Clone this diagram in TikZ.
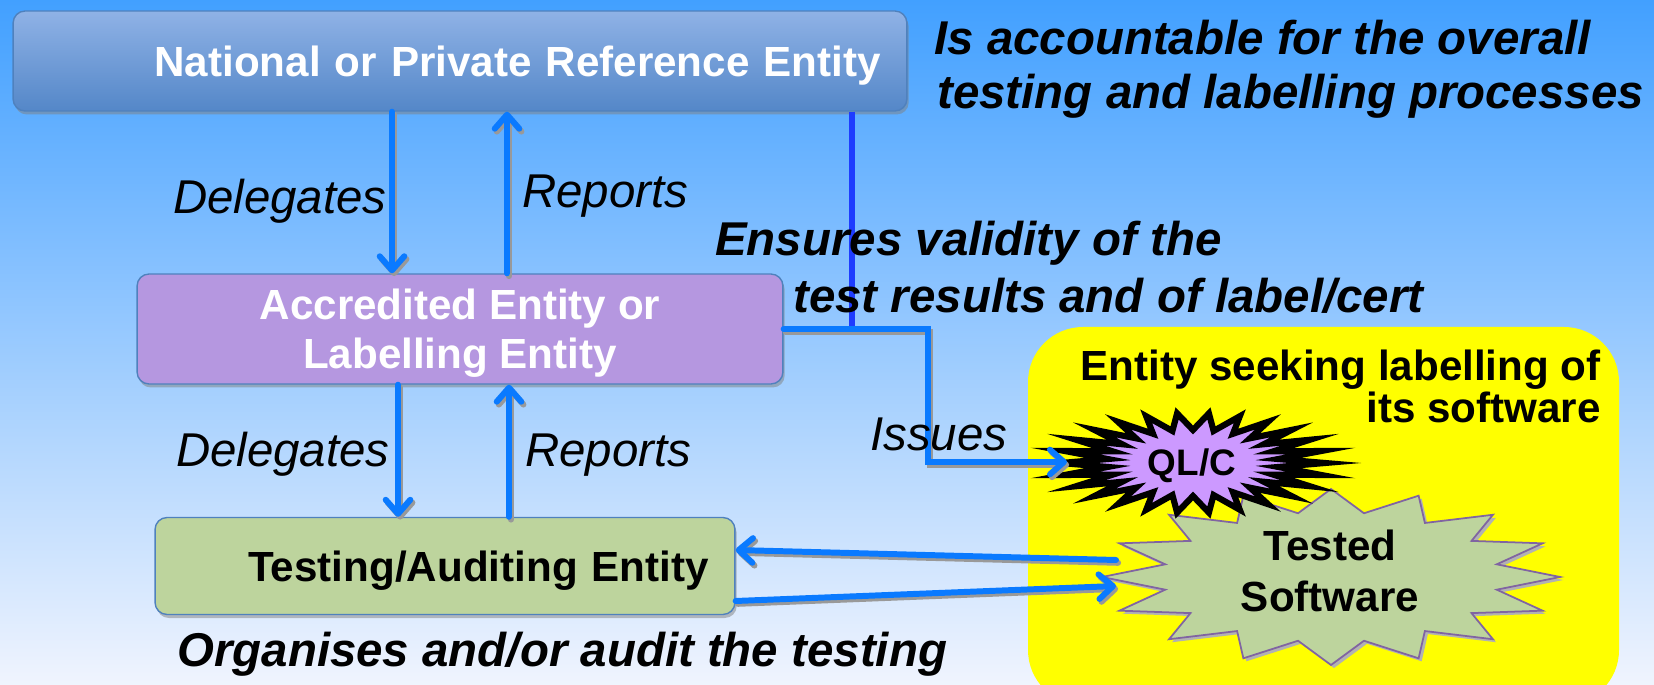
\documentclass[tikz,border=0pt]{standalone}
\usepackage{fontspec}
\setmainfont{Liberation Sans}
\usetikzlibrary{arrows.meta,shadows,calc}
\definecolor{bgtop}{RGB}{66,160,255}
\definecolor{bgmid}{RGB}{160,198,255}
\definecolor{bgbot}{RGB}{240,244,254}
\definecolor{arrblue}{RGB}{10,122,255}
\definecolor{darkblue}{RGB}{30,60,255}
\definecolor{topA}{RGB}{143,178,230}
\definecolor{topB}{RGB}{84,135,200}
\definecolor{boxedge}{RGB}{79,129,189}
\definecolor{purplebox}{RGB}{181,151,224}
\definecolor{greenbox}{RGB}{189,212,157}
\definecolor{qlfill}{RGB}{204,153,255}
\definecolor{starpurple}{RGB}{128,100,162}
\definecolor{yellowbg}{RGB}{255,255,0}
\begin{document}
\begin{tikzpicture}[x=0.02cm,y=-0.02cm,
  boxbase/.style={rounded corners=0.24cm, draw=boxedge, line width=0.8pt,
    drop shadow={shadow xshift=1pt,shadow yshift=-2pt,fill=black!50,opacity=0.5},
    text depth=0pt, font=\fontsize{24}{28}\selectfont\bfseries},
  natbox/.style={boxbase, top color=topA, bottom color=topB, text=white,
    minimum width=17.88cm, minimum height=2cm, text width=16.84cm, inner xsep=0.52cm, align=right},
  accbox/.style={boxbase, fill=purplebox, text=white,
    minimum width=12.92cm, minimum height=2.2cm, align=center},
  tstbox/.style={boxbase, fill=greenbox, text=black,
    minimum width=11.6cm, minimum height=1.94cm, text width=10.56cm, inner xsep=0.52cm, align=right},
  lbl/.style={inner sep=0pt, font=\fontsize{27}{32}\selectfont\itshape},
  blbl/.style={inner sep=0pt, font=\fontsize{27}{32}\selectfont\bfseries\itshape},
  sbold/.style={inner sep=0pt, font=\fontsize{24}{29}\selectfont\bfseries},
  arrshadow/.style={draw=black!40, line width=3.4pt, line cap=round,
    -{Straight Barb[length=8pt,width=14pt,line cap=round,line join=round]}},
  arr/.style={draw=arrblue, line width=3.4pt, line cap=round,
    -{Straight Barb[length=8pt,width=14pt,line cap=round,line join=round]}},
  darkline/.style={draw=darkblue, line width=3pt}
]
\useasboundingbox (0,0) rectangle (1654,685);
\clip (0,0) rectangle (1654,685);
\shade[top color=bgtop, middle color=bgmid, bottom color=bgbot] (0,0) rectangle (1654,685);

% yellow area
\fill[yellowbg, rounded corners=1.1cm] (1028,327) rectangle (1619,705);

% boxes
\node[natbox] (nat) at (460,61) {National or Private Reference Entity};
\node[accbox] (acc) at (460,329) {Accredited Entity or\\Labelling Entity};
\node[tstbox] (tst) at (445,566) {Testing/Auditing Entity};

% tested software star
\fill[black!30] plot[samples at={0,...,31}] ({1334+(229-60*mod(\x,2))*cos(\x*11.25)},{580+(88-23*mod(\x,2))*sin(\x*11.25)}) -- cycle;
\draw[fill=greenbox, draw=starpurple, line width=1pt, line join=miter] plot[samples at={0,...,31}] ({1331+(229-60*mod(\x,2))*cos(\x*11.25)},{577+(88-23*mod(\x,2))*sin(\x*11.25)}) -- cycle;
\node[sbold, align=center] (ts) at (1330,571) {Tested\\Software};

% QL/C star
\draw[fill=qlfill, draw=black, line width=3.5pt, line join=miter, miter limit=20] plot[samples at={0,...,51}] ({1193+(132-46*mod(\x,2))*cos(\x*6.9231)},{463+(50-17*mod(\x,2))*sin(\x*6.9231)}) -- cycle;
\node[sbold, font=\fontsize{21}{25}\selectfont\bfseries] (ql) at (1192,466) {QL/C};

% connector coordinates
\coordinate (xd1) at (392,0);
\coordinate (xr1) at (507,0);
\coordinate (xd2) at (398,0);
\coordinate (xr2) at (509,0);
\coordinate (xv) at (852,0);
\coordinate (bend) at (928,462);
\coordinate (qlin) at (1067,462);
\coordinate (tsin1) at (1116,560);
\coordinate (tsin2) at (1116,586);

% connector shadows
\begin{scope}[transform canvas={xshift=1.2pt,yshift=-1.6pt}]
\draw[arrshadow] (nat.south -| xd1) -- (acc.north -| xd1);
\draw[arrshadow] (acc.north -| xr1) -- (nat.south -| xr1);
\draw[arrshadow] (acc.south -| xd2) -- (tst.north -| xd2);
\draw[arrshadow] (tst.north -| xr2) -- (acc.south -| xr2);
\draw[arrshadow] (acc.east) -| (bend) -- (qlin);
\draw[arrshadow] (tsin1) -- ($(tst.east)+(0,-16)$);
\draw[arrshadow] ($(tst.east)+(0,35)$) -- (tsin2);
\end{scope}

% connectors
\draw[arr] (nat.south -| xd1) -- (acc.north -| xd1);
\draw[arr] (acc.north -| xr1) -- (nat.south -| xr1);
\draw[arr] (acc.south -| xd2) -- (tst.north -| xd2);
\draw[arr] (tst.north -| xr2) -- (acc.south -| xr2);
\draw[darkline] (nat.south -| xv) -- (acc.east -| xv);
\draw[arr] (acc.east) -| (bend) -- (qlin);
\draw[arr] (tsin1) -- ($(tst.east)+(0,-16)$);
\draw[arr] ($(tst.east)+(0,35)$) -- (tsin2);

% labels
\node[blbl, anchor=base west] (acct1) at (934,55) {Is accountable for the overall};
\node[blbl, anchor=base west] (acct2) at (937,109) {testing and labelling processes};
\node[lbl, anchor=base east] (del1) at (387,214) {Delegates};
\node[lbl, anchor=base west] (rep1) at (522,208) {Reports};
\node[blbl, anchor=base west] (ens1) at (715,256) {Ensures validity of the};
\node[blbl, anchor=base west] (ens2) at (793,313) {test results and of label/cert};
\node[lbl, anchor=base east] (del2) at (390,467) {Delegates};
\node[lbl, anchor=base west] (rep2) at (525,467) {Reports};
\node[lbl, anchor=base west] (iss) at (870,451) {Issues};
\node[blbl, anchor=base west] (org) at (177,667) {Organises and/or audit the testing};
\node[sbold, anchor=base east] (ent1) at (1601,381) {Entity seeking labelling of};
\node[sbold, anchor=base east] (ent2) at (1601,423) {its software};
\end{tikzpicture}
\end{document}
